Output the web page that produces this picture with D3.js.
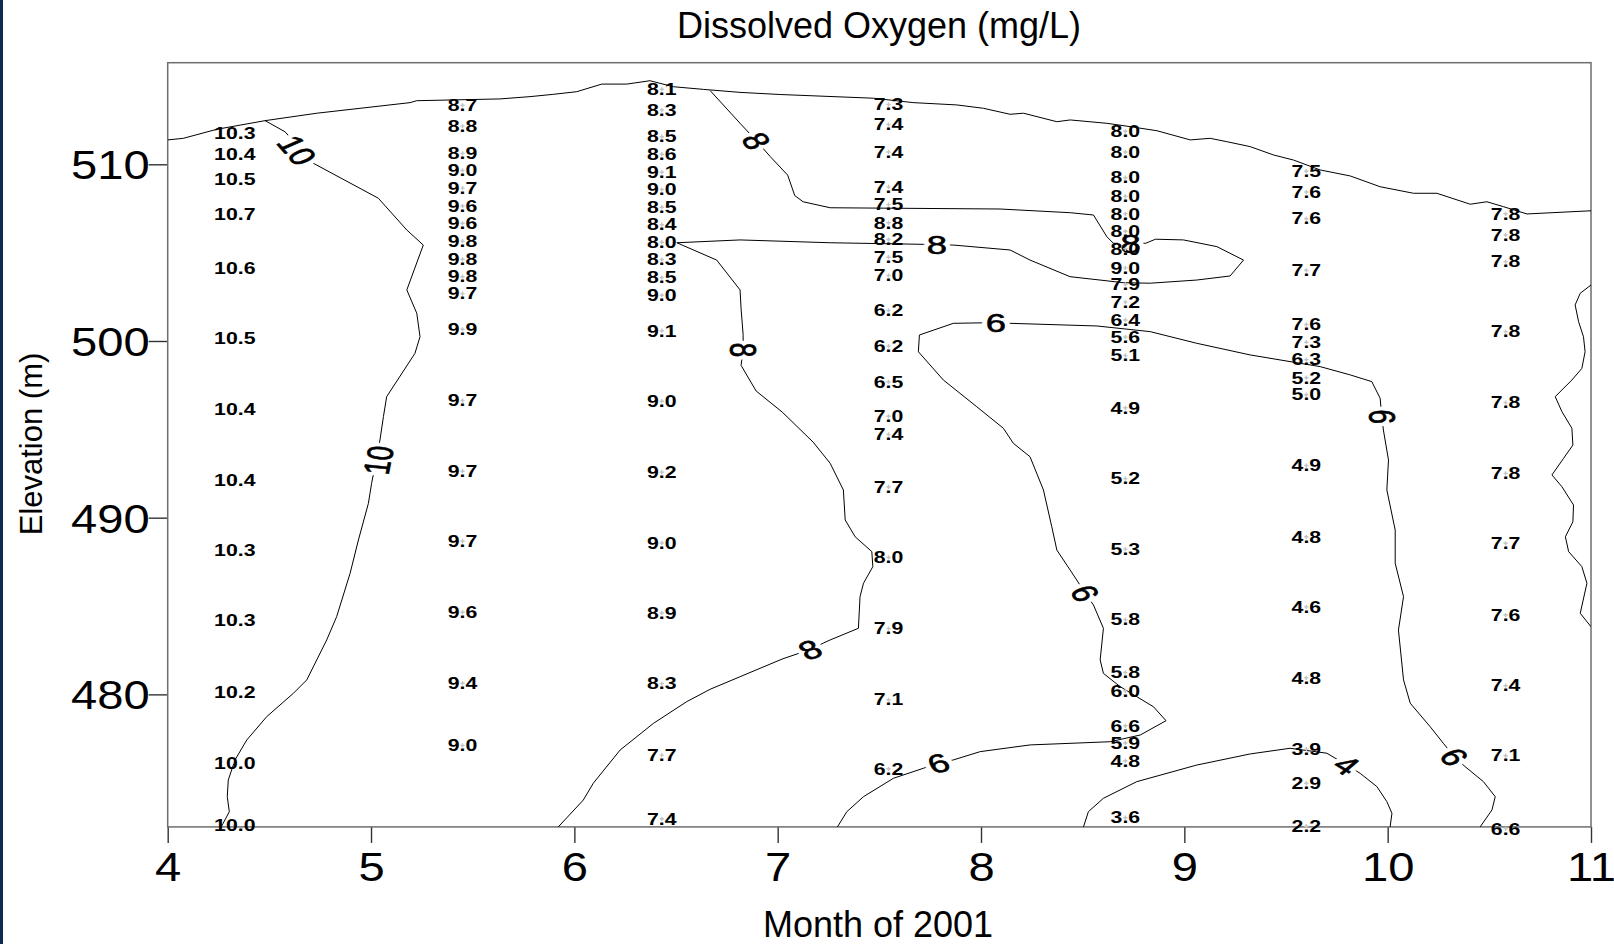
<!DOCTYPE html>
<html><head><meta charset="utf-8">
<script src="https://cdn.jsdelivr.net/npm/d3@7"></script>
<style>
html,body{margin:0;padding:0;background:#fff;}
svg{display:block;}
text{font-family:"Liberation Sans",Arial,sans-serif;}
</style></head><body>
<svg id="chart" width="1614" height="944"></svg>
<script>
// ---------------- DATA ----------------
const xTicks = [4,5,6,7,8,9,10,11];
const yTicks = [480,490,500,510];

// sampling profiles: month position, elevations (m), dissolved oxygen (mg/L)
const aprMonth = 4.33;
const aprElev = [511.75,510.58,509.13,507.16,504.09,500.15,496.11,492.12,488.15,484.17,480.10,476.12,472.59];
const aprDO   = [10.3,10.4,10.5,10.7,10.6,10.5,10.4,10.4,10.3,10.3,10.2,10.0,10.0];

const mayMonth = 5.45;
const mayElev = [513.34,512.16,510.62,509.65,508.65,507.64,506.66,505.65,504.63,503.64,502.68,500.66,496.63,492.63,488.67,484.65,480.63,477.11];
const mayDO   = [8.7,8.8,8.9,9.0,9.7,9.6,9.6,9.8,9.8,9.8,9.7,9.9,9.7,9.7,9.7,9.6,9.4,9.0];

const junMonth = 6.43;
const junElev = [514.25,513.07,511.56,510.57,509.55,508.57,507.57,506.58,505.59,504.61,503.59,502.59,500.58,496.59,492.58,488.57,484.61,480.61,476.56,472.96];
const junDO   = [8.1,8.3,8.5,8.6,9.1,9.0,8.5,8.4,8.0,8.3,8.5,9.0,9.1,9.0,9.2,9.0,8.9,8.3,7.7,7.4];

const julMonth = 7.545;
const julElev = [513.38,512.25,510.70,508.72,507.72,506.69,505.74,504.74,503.71,501.73,499.71,497.68,495.74,494.71,491.74,487.75,483.72,479.70,475.79];
const julDO   = [7.3,7.4,7.4,7.4,7.5,8.8,8.2,7.5,7.0,6.2,6.2,6.5,7.0,7.4,7.7,8.0,7.9,7.1,6.2];

const augMonth = 8.71;
const augElev = [511.87,510.70,509.24,508.19,507.20,506.21,505.22,504.14,503.20,502.20,501.19,500.23,499.18,496.22,492.21,488.22,484.23,481.24,480.20,478.22,477.25,476.24,473.02];
const augDO   = [8.0,8.0,8.0,8.0,8.0,8.0,8.0,9.0,7.9,7.2,6.4,5.6,5.1,4.9,5.2,5.3,5.8,5.8,6.0,6.6,5.9,4.8,3.6];

const sepMonth = 9.60;
const sepElev = [509.61,508.43,506.92,504.00,500.93,499.93,498.94,497.92,496.96,492.95,488.92,484.95,480.94,476.90,474.97,472.54];
const sepDO   = [7.5,7.6,7.6,7.7,7.6,7.3,6.3,5.2,5.0,4.9,4.8,4.6,4.8,3.9,2.9,2.2];

const octMonth = 10.58;
const octElev = [507.20,506.00,504.49,500.53,496.51,492.51,488.55,484.49,480.49,476.53,472.39];
const octDO   = [7.8,7.8,7.8,7.8,7.8,7.8,7.7,7.6,7.4,7.1,6.6];

// water surface
const surfMonth = [4.00,4.077,4.241,4.479,4.733,5.192,5.225,5.634,5.782,5.897,6.012,6.135,6.258,6.372,6.487,6.635,6.815,7.012,7.471,7.667,7.881,8.012,8.143,8.209,8.373,8.439,8.619,8.734,8.865,9.029,9.127,9.209,9.324,9.438,9.537,9.668,9.816,9.963,10.127,10.242,10.406,10.488,10.570,10.685,11.0];
const surfElev  = [511.38,511.47,511.98,512.47,512.89,513.49,513.60,513.70,513.83,513.96,514.11,514.54,514.54,514.73,514.39,514.24,514.07,513.95,513.74,513.49,513.36,513.17,512.83,512.89,512.41,512.51,512.32,512.13,511.90,511.38,511.47,511.28,511.00,510.53,510.24,509.68,509.34,508.73,508.36,508.36,507.74,507.88,507.60,507.19,507.37];

// contour lines (month, elevation)
const c10Month = [4.479,4.577,4.716,5.036,5.176,5.257,5.176,5.225,5.241,5.216,5.077,5.061,5.044,5.003,4.987,4.938,4.897,4.831,4.782,4.684,4.618,4.487,4.389,4.331,4.298,4.293,4.303,4.273,4.262];
const c10Elev  = [512.47,511.84,510.06,508.08,506.28,505.43,502.89,501.57,500.24,499.30,496.85,495.72,494.40,491.95,490.81,488.74,486.85,484.40,483.08,480.82,480.06,478.74,477.42,476.29,475.16,474.21,473.36,472.71,472.5];

const c8Month = [6.668,6.815,6.896,6.963,7.049,7.084,7.125,7.258,8.094,8.439,8.553,8.619,8.651,8.736,8.810,8.858,8.996,9.160,9.291,9.225,9.061,8.832,8.700,8.438,8.241,8.143,7.864,7.783,7.717,7.258,6.815,6.504,6.700,6.815,6.820,6.830,6.830,6.820,6.894,7.022,7.174,7.258,7.323,7.332,7.381,7.463,7.468,7.422,7.405,7.397,7.258,7.226,7.159,7.022,6.815,6.668,6.553,6.389,6.225,6.093,6.044,5.921];
const c8Elev  = [514.17,512.32,511.32,510.44,509.39,508.23,507.88,507.54,507.47,507.26,507.13,505.90,505.53,505.53,505.53,505.76,505.72,505.34,504.58,503.68,503.45,503.27,503.30,503.64,504.58,505.15,505.43,505.43,505.47,505.56,505.72,505.56,504.58,502.89,501.82,500.37,499.49,498.62,497.17,495.98,494.28,493.08,491.57,489.87,488.92,488.08,487.23,486.29,485.53,483.74,483.08,482.91,482.54,482.00,481.00,480.29,479.59,478.36,476.85,474.97,474.02,472.5];

const c8RightMonth = [11.0,10.947,10.922,10.939,10.963,10.971,10.955,10.906,10.824,10.857,10.906,10.911,10.865,10.808,10.857,10.914,10.911,10.874,10.890,10.955,10.980,10.947,11.0];
const c8RightElev  = [503.17,502.70,502.04,501.09,500.24,499.39,498.45,497.79,496.85,496.00,495.06,494.11,493.36,492.42,491.75,490.72,489.77,488.92,488.08,487.23,486.29,484.59,483.83];

const c6Month = [7.294,7.340,7.422,7.569,7.717,7.790,7.864,7.996,8.242,8.635,8.783,8.910,8.848,8.684,8.602,8.586,8.602,8.553,8.512,8.471,8.373,8.348,8.307,8.241,8.159,8.110,7.979,7.815,7.692,7.697,7.864,8.073,8.143,8.570,8.832,9.061,9.324,9.668,9.816,9.922,9.963,9.971,9.979,10.004,9.996,10.037,10.037,10.078,10.053,10.078,10.111,10.209,10.274,10.327,10.381,10.471,10.529,10.513,10.455];
const c6Elev  = [472.5,473.36,474.21,475.25,475.82,476.10,476.29,476.76,477.14,477.32,477.70,478.51,479.30,480.44,481.19,481.95,483.74,485.06,485.72,486.47,488.17,489.49,491.57,493.45,494.21,495.06,496.28,497.79,499.39,500.34,501.00,501.04,501.00,500.85,500.53,499.87,499.21,498.55,498.08,497.70,496.76,495.72,494.96,493.27,491.57,489.30,487.42,485.53,483.64,480.82,479.50,478.17,477.23,476.47,475.91,475.06,474.21,473.46,472.5];

const c4Month = [8.504,8.528,8.602,8.766,9.061,9.324,9.520,9.701,9.799,9.865,9.947,9.996,10.021,10.012];
const c4Elev  = [472.5,473.36,474.12,475.06,476.00,476.63,476.95,476.67,476.00,475.53,474.78,473.93,473.27,472.5];

// contour labels: text, month, elevation, on-screen angle (deg)
const labelText  = ["10","10","8","8","8","8","8","6","6","6","6","6","4"];
const labelMonth = [4.636,5.035,6.896,7.783,8.736,6.830,7.159,7.790,8.512,8.073,9.971,10.327,9.799];
const labelElev  = [510.8,493.25,511.32,505.43,505.53,499.49,482.54,476.10,485.72,501.04,495.72,476.47,476.00];
const labelAngle = [49,-79,54,0,0,90,-21,-15,56,0,90,47,31];

// ---------------- CHART ----------------
const svg = d3.select("#chart");
svg.append("rect").attr("width",1614).attr("height",944).attr("fill","#fff");
svg.append("rect").attr("x",0).attr("y",0).attr("width",3).attr("height",944).attr("fill","#0d2c55");

const x = d3.scaleLinear().domain([4,11]).range([167.7,1591]);
const y = d3.scaleLinear().domain([472.5,515.75]).range([826.9,62.7]);

const line = d3.line().x(d=>x(d[0])).y(d=>y(d[1]));

svg.append("defs").append("clipPath").attr("id","plotClip")
  .append("rect").attr("x",x(4)).attr("y",y(515.75)).attr("width",x(11)-x(4)).attr("height",y(472.5)-y(515.75));

// title and axis titles
svg.append("text").attr("x",879).attr("y",38).attr("text-anchor","middle")
  .attr("font-size",36).attr("fill","#000").text("Dissolved Oxygen (mg/L)");
svg.append("text").attr("x",878).attr("y",937).attr("text-anchor","middle")
  .attr("font-size",36).attr("fill","#000").text("Month of 2001");
svg.append("text").attr("transform","translate(42,444) rotate(-90)").attr("text-anchor","middle")
  .attr("font-size",31).attr("fill","#000").text("Elevation (m)");

// axes
const gx = svg.append("g").attr("transform",`translate(0,${y(472.5)})`)
  .call(d3.axisBottom(x).tickValues(xTicks).tickSize(16).tickSizeOuter(0).tickFormat(d3.format("d")));
const gy = svg.append("g").attr("transform",`translate(${x(4)},0)`)
  .call(d3.axisLeft(y).tickValues(yTicks).tickSize(19).tickSizeOuter(0).tickFormat(d3.format("d")));
[gx,gy].forEach(g=>{
  g.select(".domain").remove();
  g.selectAll(".tick line").attr("stroke","#333").attr("stroke-width",1.4);
  g.selectAll(".tick text").attr("fill","#000").attr("font-size",41)
   .attr("font-family",'"Liberation Sans",Arial,sans-serif');
});
gx.selectAll(".tick text").attr("y",null).attr("dy",null).attr("text-anchor","middle")
  .attr("transform","translate(0,54) scale(1.15,1)");
gy.selectAll(".tick text").attr("x",null).attr("dy","0.35em").attr("text-anchor","end")
  .attr("transform","translate(-18,0) scale(1.15,1)");

// frame
svg.append("rect").attr("x",x(4)).attr("y",y(515.75)).attr("width",x(11)-x(4)).attr("height",y(472.5)-y(515.75))
  .attr("fill","none").attr("stroke","#6e6e6e").attr("stroke-width",1.5);

// surface and contours
const lines = svg.append("g").attr("clip-path","url(#plotClip)");
const allLines = [
  d3.zip(surfMonth,surfElev),
  d3.zip(c10Month,c10Elev),
  d3.zip(c8Month,c8Elev),
  d3.zip(c8RightMonth,c8RightElev),
  d3.zip(c6Month,c6Elev),
  d3.zip(c4Month,c4Elev)
];
lines.selectAll("path").data(allLines).join("path")
  .attr("d",line).attr("fill","none").attr("stroke","#000").attr("stroke-width",1)
  .attr("stroke-linejoin","round");

// contour labels (white halo cuts the line)
const sxC = 1.4;
const cl = svg.append("g");
labelText.forEach((t,i)=>{
  const s = labelAngle[i]*Math.PI/180;
  const a = Math.atan2(sxC*Math.sin(s), Math.cos(s))*180/Math.PI;
  const tr = `translate(${x(labelMonth[i])},${y(labelElev[i])}) scale(${sxC},1) rotate(${a})`;
  cl.append("text").attr("transform",tr)
    .attr("text-anchor","middle").attr("dy","0.36em").attr("font-size",26)
    .attr("fill","#fff").attr("stroke","#fff").attr("stroke-width",8)
    .attr("stroke-linejoin","round").text(t);
  cl.append("text").attr("transform",tr)
    .attr("text-anchor","middle").attr("dy","0.36em").attr("font-size",26)
    .attr("fill","#000").attr("stroke","#000").attr("stroke-width",0.6)
    .text(t);
});

// data labels
const profiles = [
  [aprMonth,aprElev,aprDO],[mayMonth,mayElev,mayDO],[junMonth,junElev,junDO],
  [julMonth,julElev,julDO],[augMonth,augElev,augDO],[sepMonth,sepElev,sepDO],[octMonth,octElev,octDO]
];
const fmt = d3.format(".1f");
const dl = svg.append("g");
const cross = d3.symbol().type(d3.symbolCross).size(10);
profiles.forEach(([m,el,vals])=>{
  el.forEach((e,i)=>{
    const g = dl.append("g").attr("transform",`translate(${x(m)},${y(e)})`);
    g.append("path").attr("d",cross).attr("fill","#c4c4c4");
    g.append("text").attr("transform","scale(1.33,1)").attr("text-anchor","middle")
      .attr("dy","0.36em").attr("font-size",16).attr("font-weight","bold").attr("fill","#000")
      .text(fmt(vals[i]));
  });
});
</script>
</body></html>
